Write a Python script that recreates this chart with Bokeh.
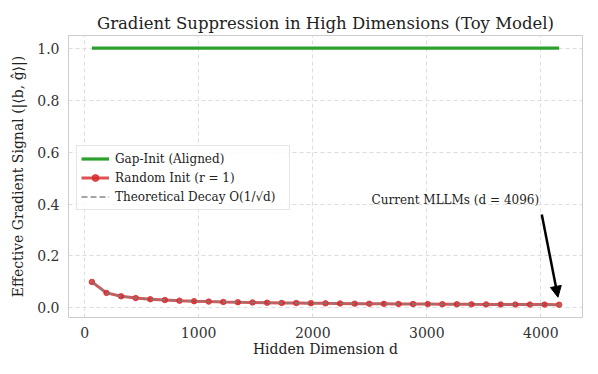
from bokeh.plotting import figure
from bokeh.models import (Range1d, FixedTicker, Legend, LegendItem, Arrow,
                          NormalHead, Label, ColumnDataSource, CustomJSTickFormatter)
from bokeh.embed import file_html
from bokeh.resources import INLINE

# ---- data ----
dims = [64, 192, 320, 448, 576, 704, 832, 960, 1088, 1216, 1344, 1472, 1600,
        1728, 1856, 1984, 2112, 2240, 2368, 2496, 2624, 2752, 2880, 3008,
        3136, 3264, 3392, 3520, 3648, 3776, 3904, 4032, 4160]
gap_init = [1.0] * len(dims)
random_init = [0.100, 0.0577, 0.0447, 0.0378, 0.0333, 0.0302, 0.0277, 0.0258,
               0.0243, 0.0229, 0.0218, 0.0209, 0.0200, 0.0192, 0.0186, 0.0180,
               0.0174, 0.0169, 0.0164, 0.0160, 0.0156, 0.0152, 0.0149, 0.0146,
               0.0143, 0.0140, 0.0137, 0.0135, 0.0132, 0.0130, 0.0128, 0.0126,
               0.0124]
theory = [0.100, 0.0577, 0.0447, 0.0378, 0.0333, 0.0302, 0.0277, 0.0258,
          0.0243, 0.0229, 0.0218, 0.0209, 0.0200, 0.0192, 0.0186, 0.0180,
          0.0174, 0.0169, 0.0164, 0.0160, 0.0156, 0.0152, 0.0149, 0.0146,
          0.0143, 0.0140, 0.0137, 0.0135, 0.0132, 0.0130, 0.0128, 0.0126,
          0.0124]
x_ticks = [0, 1000, 2000, 3000, 4000]
y_ticks = [0.0, 0.2, 0.4, 0.6, 0.8, 1.0]

title = "Gradient Suppression in High Dimensions (Toy Model)"
x_label = "Hidden Dimension d"
y_label = "Effective Gradient Signal (|⟨b, ĝ⟩|)"
series_names = ["Gap-Init (Aligned)", "Random Init (r = 1)", "Theoretical Decay O(1/√d)"]
annot_text = "Current MLLMs (d = 4096)"
annot_target = (4150, 0.041)
annot_tail = (4008, 0.36)
annot_text_pos = (3250, 0.417)

FONT = "DejaVu Serif"

src = ColumnDataSource(dict(d=dims, gap=gap_init, rnd=random_init, th=theory))

p = figure(frame_width=514, frame_height=282, output_backend="svg", toolbar_location=None,
           x_range=Range1d(-141, 4365), y_range=Range1d(-0.037, 1.049),
           min_border_left=68, min_border_right=8, min_border_top=35,
           min_border_bottom=10)
p.title.text = title
p.title.align = "center"
p.title.text_font = FONT
p.title.text_font_size = "16.5px"
p.title.text_font_style = "normal"
p.title.text_color = "#222222"
p.title.offset = 0
p.title.standoff = 6

p.outline_line_color = "#cccccc"
p.outline_line_width = 1
p.background_fill_color = "white"
p.border_fill_color = "white"

for ax in (p.xaxis, p.yaxis):
    ax.axis_line_color = None
    ax.major_tick_line_color = None
    ax.minor_tick_line_color = None
    ax.major_label_text_font = FONT
    ax.major_label_text_font_size = "14px"
    ax.major_label_text_color = "#333333"
    ax.axis_label_text_font = FONT
    ax.axis_label_text_font_size = "14px"
    ax.axis_label_text_font_style = "normal"
    ax.axis_label_text_color = "#222222"

p.xaxis.ticker = FixedTicker(ticks=x_ticks)
p.yaxis.ticker = FixedTicker(ticks=y_ticks)
p.yaxis.formatter = CustomJSTickFormatter(code="return tick.toFixed(1);")
p.xaxis.axis_label = x_label
p.yaxis.axis_label = y_label
p.xaxis.major_label_standoff = 3
p.yaxis.major_label_standoff = 3
p.xaxis.axis_label_standoff = 0
p.yaxis.axis_label_standoff = 8

p.grid.grid_line_color = "#dddddd"
p.grid.grid_line_dash = "4 3"
p.grid.grid_line_width = 1

r_gap = p.line("d", "gap", source=src, line_color="#2ca02c", line_width=3.2)
r_rnd = p.line("d", "rnd", source=src, line_color="#d62728", line_alpha=0.8, line_width=3)
r_rnd_m = p.scatter("d", "rnd", source=src, size=5.5, fill_color="#d62728",
                    line_color="#d62728", alpha=0.8)
r_th = p.line("d", "th", source=src, line_color="gray", line_alpha=0.7,
              line_width=2, line_dash="6 3")

legend = Legend(items=[LegendItem(label=series_names[0], renderers=[r_gap]),
                       LegendItem(label=series_names[1], renderers=[r_rnd, r_rnd_m]),
                       LegendItem(label=series_names[2], renderers=[r_th])],
                location=(8, 107))
legend.label_text_font = FONT
legend.label_text_font_size = "12px"
legend.label_text_color = "#222222"
legend.glyph_width = 28
legend.glyph_height = 17
legend.label_height = 17
legend.label_width = 170
legend.label_standoff = 6
legend.spacing = 2
legend.padding = 4
legend.margin = 0
legend.border_line_color = "#cccccc"
legend.background_fill_alpha = 0.85
p.add_layout(legend)

p.add_layout(Arrow(end=NormalHead(size=11, fill_color="black", line_color="black"),
                   x_start=annot_tail[0], y_start=annot_tail[1],
                   x_end=annot_target[0], y_end=annot_target[1],
                   line_color="black", line_width=2.5))
p.add_layout(Label(x=annot_text_pos[0], y=annot_text_pos[1], text=annot_text,
                   text_font=FONT, text_font_size="12px", text_align="center",
                   text_baseline="middle", text_color="#222222"))

open("out.html", "w").write(file_html(p, INLINE))
